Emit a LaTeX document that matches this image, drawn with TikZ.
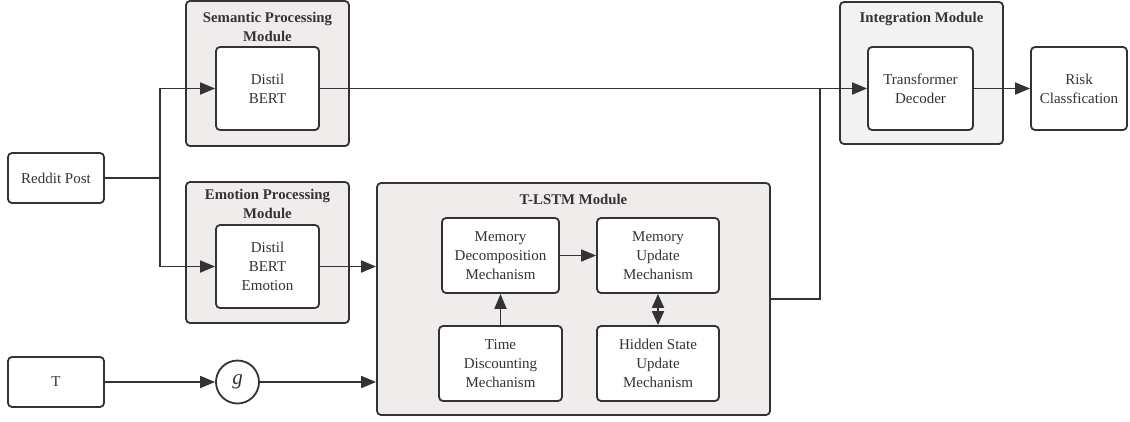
\documentclass[tikz,border=0pt]{standalone}
\usepackage{fontspec}
\setmainfont{Liberation Serif}
\usetikzlibrary{arrows.meta,positioning}
\definecolor{ink}{HTML}{333333}
\definecolor{modfill}{HTML}{EFECEB}
\definecolor{intfill}{HTML}{F2F2F2}
\begin{document}
\begin{tikzpicture}[x=1pt,y=-1pt,
  font=\rmfamily\fontsize{15}{19}\selectfont,
  every node/.style={text=ink},
  box/.style={draw=ink,line width=1.8pt,rounded corners=4pt,fill=white,
    align=center,inner sep=0pt},
  module/.style={draw=ink,line width=1.8pt,rounded corners=4pt,fill=modfill,inner sep=0pt},
  title/.style={font=\rmfamily\fontsize{14.8}{19}\selectfont\bfseries,align=center,inner sep=0pt},
  wire/.style={draw=ink,line width=1.8pt},
  arr/.style={wire,-{Triangle[length=15pt,width=12pt]}},
  darr/.style={wire,{Triangle[length=14pt,width=12pt]}-{Triangle[length=14pt,width=12pt]}}]
\useasboundingbox (0,0) rectangle (1130,421);

% module frames
\node[module,minimum width=163pt,minimum height=145pt] (semmod) at (267.5,73.5) {};
\node[module,minimum width=163pt,minimum height=141pt] (emomod) at (267.5,252.5) {};
\node[module,minimum width=393pt,minimum height=232pt] (tlstm) at (573.5,299) {};
\node[module,fill=intfill,minimum width=163pt,minimum height=142pt] (intmod) at (921.5,73) {};

% module titles
\node[title] at (267.5,26.5) {Semantic Processing\\Module};
\node[title] at (267.5,204) {Emotion Processing\\Module};
\node[title] at (573.5,199) {T-LSTM Module};
\node[title] at (921.5,19) {Integration Module};

% inputs
\node[box,minimum width=96pt,minimum height=50pt] (post) at (56,178) {Reddit Post};
\node[box,minimum width=96pt,minimum height=50pt] (tin) at (56,382) {T};
\node[draw=ink,line width=1.8pt,circle,minimum size=43pt,inner sep=0pt,fill=white,
  font=\rmfamily\fontsize{21}{21}\selectfont\itshape] (g) at (237.5,382) {g};

% encoders
\node[box,minimum width=103pt,minimum height=83pt] (sem) at (267.5,88.5) {Distil\\BERT};
\node[box,minimum width=103pt,minimum height=83pt] (emo) at (267.5,266.5) {Distil\\BERT\\Emotion};

% T-LSTM internals
\node[box,minimum width=117pt,minimum height=75pt] (md) at (500.5,255.5) {Memory\\Decomposition\\Mechanism};
\node[box,minimum width=122pt,minimum height=75pt] (mu) at (658,255.5) {Memory\\Update\\Mechanism};
\node[box,minimum width=123pt,minimum height=75pt] (td) at (500.5,363.5) {Time\\Discounting\\Mechanism};
\node[box,minimum width=122pt,minimum height=75pt] (hs) at (658,363.5) {Hidden State\\Update\\Mechanism};

% fusion and output
\node[box,minimum width=105pt,minimum height=83pt] (dec) at (920.5,88.5) {Transformer\\Decoder};
\node[box,minimum width=96pt,minimum height=83pt] (risk) at (1079,88.5) {Risk\\Classfication};

% connectors
\coordinate (split) at (160,178);
\draw[wire] (post.east) -- (split);
\draw[arr] (split) |- (sem.west);
\draw[arr] (split) |- (emo.west);
\draw[arr] (emo.east) -- (emo.east -| tlstm.west);
\draw[arr] (tin.east) -- (g.west);
\draw[arr] (g.east) -- (g.east -| tlstm.west);
\draw[arr] (sem.east) -- (dec.west);
\coordinate (tout) at (770,299);
\coordinate (merge) at (820,88.5);
\draw[wire] (tout) -| (merge);
\draw[arr] (dec.east) -- (risk.west);
\draw[arr] (md.east) -- (mu.west);
\draw[arr] (td.north) -- (md.south);
\draw[darr] (mu.south) -- (hs.north);
\end{tikzpicture}
\end{document}
